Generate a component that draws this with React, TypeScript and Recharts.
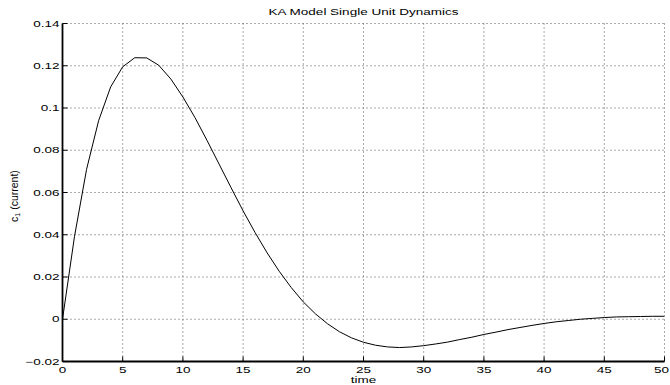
import React from 'react';
import { LineChart, Line, XAxis, YAxis, CartesianGrid } from 'recharts';

// time samples (one per unit) and the single-unit current response
const time = [
  0, 1, 2, 3, 4, 5, 6, 7, 8, 9, 10, 11, 12, 13, 14, 15, 16, 17, 18, 19, 20, 21, 22, 23, 24, 25,
  26, 27, 28, 29, 30, 31, 32, 33, 34, 35, 36, 37, 38, 39, 40, 41, 42, 43, 44, 45, 46, 47, 48, 49, 50,
];
const current = [
  0, 0.0393, 0.071, 0.094, 0.11, 0.1195, 0.1238, 0.1237, 0.1202, 0.1137, 0.1052,
  0.0955, 0.0847, 0.0735, 0.0623, 0.0513, 0.041, 0.0314, 0.0227, 0.015, 0.0082,
  0.0026, -0.0021, -0.0059, -0.0088, -0.0109, -0.0123, -0.0131, -0.0134, -0.0131, -0.0125,
  -0.0117, -0.0108, -0.0096, -0.0085, -0.0072, -0.0061, -0.0049, -0.0039, -0.0029, -0.002,
  -0.0012, -0.0006, 0, 0.0004, 0.0008, 0.0011, 0.0012, 0.0013, 0.0014, 0.0014,
];
const xTicks = [0, 5, 10, 15, 20, 25, 30, 35, 40, 45, 50];
const yTicks = [-0.02, 0, 0.02, 0.04, 0.06, 0.08, 0.1, 0.12, 0.14];

const title = 'KA Model Single Unit Dynamics';
const xLabel = 'time';

const data = time.map((t, i) => ({ t, c: current[i] }));

const FONT = '"Liberation Sans", Arial, Helvetica, sans-serif';

const fmt = (v: number) => {
  const s = String(Number(v.toFixed(2)));
  return s.startsWith('-') ? '\u2212' + s.slice(1) : s;
};

const YTick = (props: any) => {
  const { x, y, payload } = props;
  return (
    <text
      transform={`translate(${x},${y}) scale(1.5,1)`}
      x={0}
      y={3.2}
      textAnchor="end"
      fontFamily={FONT}
      fontSize={9}
      fill="#000"
    >
      {fmt(payload.value)}
    </text>
  );
};

const XTick = (props: any) => {
  const { x, y, payload } = props;
  // last label sits on the right edge; nudge it in so it is not clipped
  const dx = payload.value === 50 ? -3 : 0;
  return (
    <text
      transform={`translate(${x + dx},${y}) scale(1.5,1)`}
      x={0}
      y={12}
      textAnchor="middle"
      fontFamily={FONT}
      fontSize={9}
      fill="#000"
    >
      {fmt(payload.value)}
    </text>
  );
};

const EmptyTick = () => <g />;

const App: React.FC = () => {
  return (
    <div style={{ position: 'absolute', left: 0, top: 0, width: 670, height: 385, background: '#fff' }}>
      <LineChart
        width={670}
        height={385}
        data={data}
        margin={{ top: 23.5, right: 5.5, bottom: 0, left: 0 }}
      >
        <CartesianGrid
          xAxisId="b"
          yAxisId="l"
          stroke="#555"
          strokeDasharray="1 3"
          strokeWidth={1}
        />
        <XAxis
          xAxisId="b"
          dataKey="t"
          type="number"
          domain={[0, 50]}
          ticks={xTicks}
          allowDataOverflow
          height={23.5}
          tickSize={-5}
          tickMargin={5}
          tick={XTick}
          interval={0}
          axisLine={{ stroke: '#000', strokeWidth: 1.8 }}
          tickLine={{ stroke: '#000' }}
        />
        <XAxis
          xAxisId="t"
          orientation="top"
          type="number"
          domain={[0, 50]}
          ticks={xTicks}
          allowDataOverflow
          height={0}
          tickSize={-5}
          tick={EmptyTick}
          interval={0}
          axisLine={{ stroke: '#000', strokeWidth: 1.4 }}
          tickLine={{ stroke: '#000' }}
        />
        <YAxis
          yAxisId="l"
          type="number"
          domain={[-0.02, 0.14]}
          ticks={yTicks}
          allowDataOverflow
          width={62.5}
          tickSize={-5}
          tickMargin={8}
          tick={YTick}
          interval={0}
          axisLine={{ stroke: '#000', strokeWidth: 1.8 }}
          tickLine={{ stroke: '#000' }}
        />
        <YAxis
          yAxisId="r"
          orientation="right"
          type="number"
          domain={[-0.02, 0.14]}
          ticks={yTicks}
          allowDataOverflow
          width={0}
          tickSize={-5}
          tick={EmptyTick}
          interval={0}
          axisLine={{ stroke: '#000', strokeWidth: 1.6 }}
          tickLine={{ stroke: '#000' }}
        />
        <Line
          xAxisId="b"
          yAxisId="l"
          type="linear"
          dataKey="c"
          stroke="#000"
          strokeWidth={1}
          dot={false}
          isAnimationActive={false}
        />
      </LineChart>
      <svg
        width={670}
        height={385}
        style={{ position: 'absolute', left: 0, top: 0, pointerEvents: 'none' }}
      >
        <text
          transform="translate(363.5,15) scale(1.5,1)"
          textAnchor="middle"
          fontFamily={FONT}
          fontSize={9}
          fill="#000"
        >
          {title}
        </text>
        <text
          transform="translate(363.5,383) scale(1.5,1)"
          textAnchor="middle"
          fontFamily={FONT}
          fontSize={9}
          fill="#000"
        >
          {xLabel}
        </text>
        <text
          transform="translate(17.5,196) rotate(-90)"
          textAnchor="middle"
          fontFamily={FONT}
          fontSize={10.5}
          fill="#000"
        >
          c<tspan dy={2.5} fontSize={7}>1</tspan>
          <tspan dy={-2.5}> (current)</tspan>
        </text>
      </svg>
    </div>
  );
};

export default App;
